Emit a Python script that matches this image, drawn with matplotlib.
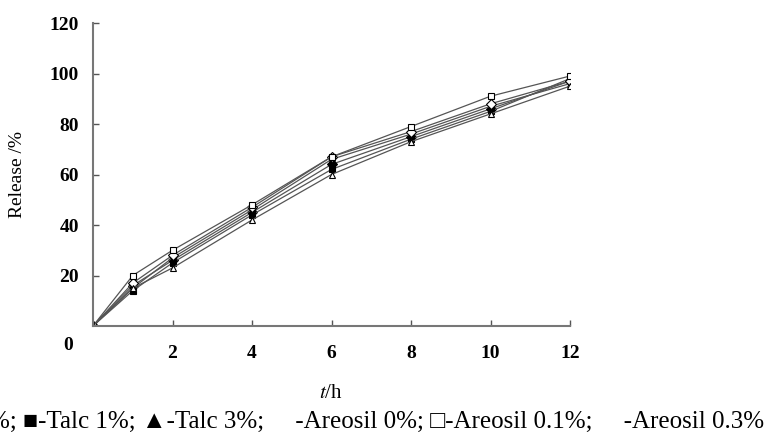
import numpy as np
import matplotlib
matplotlib.use("Agg")
import matplotlib.pyplot as plt

plt.rcParams['font.family'] = ['Liberation Serif', 'DejaVu Serif']
plt.rcParams['mathtext.fontset'] = 'stix'

# tempo (h) e liberação (%)
t = [0, 1, 2, 4, 6, 8, 10, 12]
talc0 = [0, 16, 26, 45, 64, 75, 86, 97]
talc1 = [0, 14, 25, 44, 62, 74, 85, 98]
talc3 = [0, 15, 27, 46, 66, 76, 87, 96]
areosil0 = [0, 17, 28, 47, 67, 77, 88, 97]
areosil01 = [0, 20, 30, 48, 67, 79, 91, 99]
areosil03 = [0, 15, 23, 42, 60, 73, 84, 95]

# legenda em texto, como no original (sai cortada na borda esquerda)
legend_txt = "\u25c6-Talc 0%; \u25a0-Talc 1%; \u25b2-Talc 3%;     -Areosil 0%; \u25a1-Areosil 0.1%;     -Areosil 0.3%"

fig = plt.figure(figsize=(7.67, 4.36), dpi=100)
ax = fig.add_axes([93/767, 1 - 326/436, (570-93)/767, (326-23)/436])

series = [
    (talc0, 'D', 'black'),
    (talc1, 's', 'black'),
    (talc3, '^', 'black'),
    (areosil0, 'D', 'white'),
    (areosil01, 's', 'white'),
    (areosil03, '^', 'white'),
]
for y, m, fc in series:
    ax.plot(t, y, color='#555555', lw=0.9, marker=m, ms=5,
            mfc=fc, mec='black', mew=0.8)

ax.set_xlim(0, 12)
ax.set_ylim(0, 120)
ax.set_xticks([2, 4, 6, 8, 10, 12])
ax.set_yticks([20, 40, 60, 80, 100, 120])
for s in ['top', 'right']:
    ax.spines[s].set_visible(False)
for s in ['left', 'bottom']:
    ax.spines[s].set_color('#777777')
    ax.spines[s].set_linewidth(1.5)
ax.tick_params(direction='in', length=4, width=1, color='#555555',
               labelsize=14)
for lb in ax.get_xticklabels() + ax.get_yticklabels():
    lb.set_fontweight('bold')
ax.tick_params(axis='y', pad=10)
ax.tick_params(axis='x', pad=14)

fig.text(68/767, 1 - 345/436, "0", fontsize=14, fontweight='bold',
         ha='center', va='center')
fig.text(18/767, 1 - 175/436, "Release /%", rotation=90, fontsize=14,
         ha='center', va='center')
fig.text(331/767, 1 - 393/436, r"$t$/h", fontsize=15, ha='center', va='center')
fig.text(764/767, 1 - 422/436, legend_txt, fontsize=18, ha='right', va='center')

fig.savefig("out.png", dpi=100)
